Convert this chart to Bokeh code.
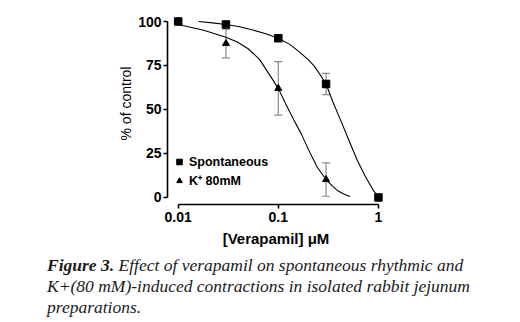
from bokeh.plotting import figure
from bokeh.models import (ColumnDataSource, Whisker, TeeHead, FixedTicker, Legend,
                          LegendItem, Range1d, Div)
from bokeh.layouts import column
from bokeh.embed import file_html
from bokeh.resources import INLINE

# ---- data ----
conc = [0.01, 0.03, 0.1, 0.3, 1.0]
spont_mean = [100, 98.3, 90.5, 64.5, 0]
spont_err = [0, 1, 1, 6, 0]

k_conc = [0.01, 0.03, 0.1, 0.3]
k_mean = [100, 87.5, 62, 10.2]
k_err = [0, 8.2, 15.2, 9.5]

spont_fit_x = [0.016, 0.022, 0.03, 0.04, 0.057, 0.075, 0.1, 0.13, 0.16, 0.2, 0.23,
               0.26, 0.3, 0.347, 0.42, 0.508, 0.616, 0.747, 0.871, 1.0]
spont_fit_y = [100, 99.2, 98.3, 97.2, 95, 93, 90.5, 87, 83, 78.2, 74.5,
               70, 64.5, 55, 43.8, 32.4, 21, 11.5, 4.9, 0]

k_fit_x = [0.01, 0.018, 0.03, 0.039, 0.05, 0.065, 0.08, 0.1, 0.12, 0.143, 0.17,
           0.195, 0.22, 0.245, 0.3, 0.35, 0.389, 0.45, 0.52]
k_fit_y = [98.3, 95, 91, 88.3, 84.5, 78.5, 70.5, 62, 52.5, 44, 36,
           28.6, 22.5, 17.2, 10.2, 6.3, 4, 2, 0.6]

x_ticks = [0.01, 0.1, 1]
x_tick_labels = ["0.01", "0.1", "1"]
y_ticks = [0, 25, 50, 75, 100]

caption_bold = "Figure 3."
caption_lines = ["Effect of verapamil on spontaneous rhythmic and",
                 "K+(80 mM)-induced contractions in isolated rabbit jejunum",
                 "preparations."]

# ---- figure ----
p = figure(width=520, height=252, x_axis_type="log",
           x_range=Range1d(0.00782, 1.15), y_range=Range1d(-4, 110.8),
           output_backend="svg", toolbar_location=None,
           min_border_left=167, min_border_right=136,
           min_border_top=2, min_border_bottom=48)
p.outline_line_color = None
p.xgrid.visible = False
p.ygrid.visible = False
p.background_fill_color = "white"
p.border_fill_color = "white"

# axes
for ax in (p.xaxis[0], p.yaxis[0]):
    ax.axis_line_width = 1.6
    ax.axis_line_color = "black"
    ax.major_tick_line_width = 1.6
    ax.major_tick_in = 0
    ax.major_tick_out = 4
    ax.minor_tick_line_color = None
    ax.major_label_text_font = "Liberation Sans"
    ax.major_label_text_font_style = "bold"
    ax.major_label_text_font_size = "14px"
    ax.major_label_text_color = "black"
    ax.axis_label_text_font = "Liberation Sans"
    ax.axis_label_text_color = "black"

p.xaxis[0].ticker = FixedTicker(ticks=x_ticks)
p.xaxis[0].major_label_overrides = {t: l for t, l in zip(x_ticks, x_tick_labels)}
p.xaxis[0].bounds = (x_ticks[0], x_ticks[-1])
p.xaxis[0].axis_label = "[Verapamil] μM"
p.xaxis[0].axis_label_text_font_style = "bold"
p.xaxis[0].axis_label_text_font_size = "15px"
p.xaxis[0].major_label_standoff = 3
p.xaxis[0].axis_label_standoff = 5

p.yaxis[0].ticker = FixedTicker(ticks=y_ticks)
p.yaxis[0].bounds = (y_ticks[0], y_ticks[-1])
p.yaxis[0].axis_label = "% of control"
p.yaxis[0].axis_label_text_font_style = "normal"
p.yaxis[0].axis_label_text_font_size = "14px"
p.yaxis[0].axis_label_standoff = 1
p.yaxis[0].major_label_standoff = 2

# fitted curves
p.line(spont_fit_x, spont_fit_y, line_color="black", line_width=1.1)
p.line(k_fit_x, k_fit_y, line_color="black", line_width=1.1)

# error bars
grey = "#8a8a8a"
s_src = ColumnDataSource(dict(
    x=[c for c, e in zip(conc, spont_err) if e > 0],
    lo=[m - e for m, e in zip(spont_mean, spont_err) if e > 0],
    hi=[m + e for m, e in zip(spont_mean, spont_err) if e > 0]))
k_src = ColumnDataSource(dict(
    x=[c for c, e in zip(k_conc, k_err) if e > 0],
    lo=[m - e for m, e in zip(k_mean, k_err) if e > 0],
    hi=[m + e for m, e in zip(k_mean, k_err) if e > 0]))
for src in (s_src, k_src):
    w = Whisker(base="x", lower="lo", upper="hi", source=src,
                line_color=grey, line_width=1.2,
                upper_head=TeeHead(size=8, line_color=grey, line_width=1.2),
                lower_head=TeeHead(size=8, line_color=grey, line_width=1.2),
                level="underlay")
    p.add_layout(w)

# markers
r_k = p.scatter(k_conc, k_mean, marker="triangle", size=7, color="black")
r_s = p.scatter(conc, spont_mean, marker="square", size=7.5, color="black")

legend = Legend(items=[LegendItem(label="Spontaneous", renderers=[r_s]),
                       LegendItem(label="K⁺ 80mM", renderers=[r_k])],
                location=(5, 14), orientation="vertical",
                background_fill_alpha=0, border_line_color=None,
                padding=0, margin=0, spacing=0,
                glyph_width=14, glyph_height=19, label_height=19,
                label_standoff=3,
                label_text_font="Liberation Sans", label_text_font_style="bold",
                label_text_font_size="12.5px", label_text_color="black")
p.add_layout(legend, "center")

# caption below the chart
line_style = "text-align:justify;text-align-last:justify;white-space:nowrap;"
last_style = "text-align:left;white-space:nowrap;"
caption_html = (
    '<div style="font-family:\'Liberation Serif\';font-style:italic;font-size:17.5px;'
    'line-height:21px;color:#1a1a1a;padding-top:3px;padding-left:47px;width:435px;">'
    f'<div style="{line_style}"><b>{caption_bold}</b> {caption_lines[0]}</div>'
    f'<div style="{line_style}">{caption_lines[1]}</div>'
    f'<div style="{last_style}">{caption_lines[2]}</div>'
    '</div>')
cap = Div(text=caption_html, width=520, height=70, margin=(0, 0, 0, 0))

layout = column(p, cap, spacing=0)
open("out.html", "w").write(file_html(layout, INLINE))
